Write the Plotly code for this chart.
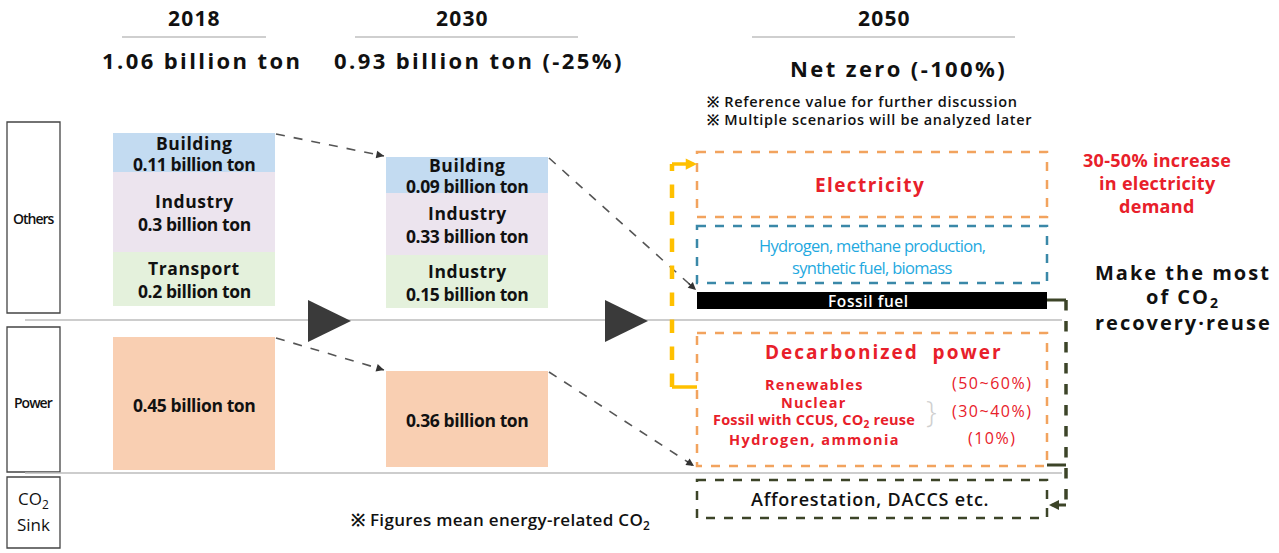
import plotly.graph_objects as go

# ---- content -------------------------------------------------------------
years = ["2018", "2030", "2050"]
totals = ["1.06 billion ton", "0.93 billion ton (-25%)", "Net zero (-100%)"]

sectors_2018 = ["Building", "Industry", "Transport"]
values_2018 = [0.11, 0.3, 0.2]
power_2018 = 0.45

sectors_2030 = ["Building", "Industry", "Industry"]
values_2030 = [0.09, 0.33, 0.15]
power_2030 = 0.36

row_labels = ["Others", "Power", "CO<sub>2</sub>", "Sink"]

mix_sources = ["Renewables", "Nuclear", "Fossil with CCUS, CO<sub>2</sub> reuse", "Hydrogen, ammonia"]
mix_shares = ["(50~60%)", "(30~40%)", "(10%)"]

notes_2050 = ["※ Reference value for further discussion",
              "※ Multiple scenarios will be analyzed later"]
demand_note = ["30-50% increase", "in electricity", "demand"]
reuse_note = ["Make the most", "of CO<sub>2</sub>", "recovery·reuse"]

# ---- styling -------------------------------------------------------------
W, H = 1279, 553
FONT = "Open Sans"
SECTOR_COLORS = ["#c3dbf1", "#ece4ee", "#e4f1dc"]
POWER_COLOR = "#f9cfb2"
ORANGE = "#f2a35e"
TEAL = "#3a88a8"
OLIVE = "#3c4428"
YELLOW = "#ffc000"
RED = "#e8202a"
ARROW_GRAY = "#555555"

fig = go.Figure()
shapes = []
ann = []


def text(x, y, s, size=15, color="#111", weight=700, xanchor="center", spacing=None):
    if spacing is not None:
        s = f"<span style='letter-spacing:{spacing}px'>{s}</span>"
    ann.append(dict(x=x, y=y, text=s, showarrow=False,
                    xanchor=xanchor, yanchor="middle",
                    font=dict(family=FONT, size=size, color=color, weight=weight)))


def rect(x0, y0, x1, y1, fill=None, line=None, width=1.5, dash=None):
    shapes.append(dict(type="rect", x0=x0, y0=y0, x1=x1, y1=y1,
                       fillcolor=fill if fill else "rgba(0,0,0,0)",
                       line=dict(color=line if line else "rgba(0,0,0,0)",
                                 width=width if line else 0, dash=dash),
                       layer="below"))


def seg(x0, y0, x1, y1, color, width=1.5, dash=None):
    shapes.append(dict(type="line", x0=x0, y0=y0, x1=x1, y1=y1,
                       line=dict(color=color, width=width, dash=dash)))


def head(x, y, fx, fy, color, size=1.0, width=1.5):
    # arrowhead at (x, y), oriented from (fx, fy)
    ann.append(dict(x=x, y=y, ax=fx, ay=fy, axref="x", ayref="y", xref="x", yref="y",
                    text="", showarrow=True, arrowhead=2, arrowsize=size,
                    arrowwidth=width, arrowcolor=color, standoff=0))


# ---- headers -------------------------------------------------------------
header_x = [194, 462, 884]
total_x = [202, 479, 898]
total_y = [60, 60, 68]
rule_spans = [(122, 266), (355, 578), (752, 1015)]
for yr, tot, hx, tx, ty, (r0, r1) in zip(years, totals, header_x, total_x, total_y, rule_spans):
    text(hx, 18, yr, size=21, spacing=1.2)
    seg(r0, 37, r1, 37, "#cfcfcf", width=2)
    text(tx, ty, tot, size=22, spacing=2.4)

text(705, 101, notes_2050[0], size=14.5, weight=600, xanchor="left", spacing=0.7)
text(705, 119, notes_2050[1], size=14.5, weight=600, xanchor="left", spacing=0.7)

# ---- row frames ----------------------------------------------------------
rows = [(122, 313), (327, 472), (477, 548)]
for (y0, y1) in rows:
    rect(7, y0, 60, y1, line="#444", width=1.3)
text(33.5, 218, row_labels[0], size=14, weight=600, spacing=-1)
text(33.5, 402, row_labels[1], size=14, weight=600, spacing=-1)
text(33.5, 499, row_labels[2], size=17, weight=500)
text(33.5, 524, row_labels[3], size=17, weight=500)

seg(25, 320, 1062, 320, "#bdbdbd", width=1.5)
seg(25, 473, 1062, 473, "#bdbdbd", width=1.5)

# progress triangles
for tx0 in (308, 605):
    shapes.append(dict(type="path", path=f"M {tx0},300 L {tx0 + 43},321 L {tx0},342 Z",
                       fillcolor="#3a3a3a", line=dict(width=0)))

# ---- sector stacks -------------------------------------------------------
stack_2018 = [(133, 172), (172, 252), (252, 306)]
stack_2030 = [(157, 193), (193, 255), (255, 308)]
for (sx0, sx1), names, vals, stack in [((113, 275), sectors_2018, values_2018, stack_2018),
                                       ((386, 548), sectors_2030, values_2030, stack_2030)]:
    for name, v, col, (y0, y1) in zip(names, vals, SECTOR_COLORS, stack):
        rect(sx0, y0, sx1, y1, fill=col)
        mid = (y0 + y1) / 2
        gap = 11 if (y1 - y0) < 45 else 12
        cx = (sx0 + sx1) / 2
        text(cx, mid - gap + 1, name, size=17.5, spacing=0.6)
        text(cx, mid + gap, f"{v:g} billion ton", size=17.5, spacing=-0.4)

rect(113, 337, 275, 470, fill=POWER_COLOR)
text(194, 405, f"{power_2018:g} billion ton", size=17.5, spacing=-0.4)
rect(386, 371, 548, 467, fill=POWER_COLOR)
text(467, 420, f"{power_2030:g} billion ton", size=17.5, spacing=-0.4)

# dashed transition arrows
for (x0, y0, x1, y1) in [(276, 134, 384, 156), (549, 158, 696, 290),
                         (276, 338, 384, 370), (549, 372, 694, 466)]:
    seg(x0, y0, x1, y1, ARROW_GRAY, width=1.6, dash="dash")
    head(x1, y1, x1 - (x1 - x0) * 0.06, y1 - (y1 - y0) * 0.06, "#333", size=1.1, width=1.4)

# ---- 2050 structure ------------------------------------------------------
BX0, BX1 = 697, 1047
rect(BX0, 152, BX1, 217, line=ORANGE, width=2.5, dash="dash")
text(870, 185, "Electricity", size=19, color=RED, spacing=1.4)

rect(BX0, 226, BX1, 283, line=TEAL, width=2.5, dash="dash")
text(872, 245, "Hydrogen, methane production,", size=16.5, color="#1fa9e0", weight=500, spacing=-0.7)
text(872, 267, "synthetic fuel, biomass", size=16.5, color="#1fa9e0", weight=500, spacing=-0.7)

rect(BX0, 292, BX1, 309, fill="#000000")
text(868, 300.5, "Fossil fuel", size=15.5, color="#ffffff", weight=600, spacing=0.6)

rect(BX0, 333, BX1, 466, line=ORANGE, width=2.5, dash="dash")
text(884, 352, "Decarbonized  power", size=19, color=RED, spacing=2)
src_y = [384, 402, 420, 439]
src_sp = [1.2, 1.2, 0.2, 1.4]
for s, y, sp in zip(mix_sources, src_y, src_sp):
    text(814, y, s, size=14.5, color=RED, spacing=sp)
for s, y in zip(mix_shares, [383, 411, 438]):
    text(992, y, s, size=16, color=RED, weight=500, spacing=1.5)
text(931, 410, "}", size=30, color="#cfcfcf", weight=300)

rect(BX0, 480, BX1, 518, line=OLIVE, width=2.5, dash="dash")
text(870, 499, "Afforestation, DACCS etc.", size=18, weight=600, spacing=0.8)

# yellow feedback loop into electricity
seg(697, 387, 672, 387, YELLOW, width=3.5)
seg(672, 387, 672, 164, YELLOW, width=4.5, dash="dash")
seg(672, 164, 690, 164, YELLOW, width=3.5)
head(697, 164, 688, 164, YELLOW, size=0.9, width=2.5)

# olive CO2 recovery loop toward sink
seg(1047, 300, 1066, 300, OLIVE, width=3)
seg(1047, 465, 1066, 465, OLIVE, width=3)
seg(1066, 300, 1066, 505, OLIVE, width=3.5, dash="dash")
seg(1066, 505, 1055, 505, OLIVE, width=3)
head(1049, 505, 1058, 505, OLIVE, size=0.8, width=2.5)

# ---- side notes ----------------------------------------------------------
for s, y in zip(demand_note, [160, 183, 206]):
    text(1157, y, s, size=18, color=RED, spacing=0.3)
for s, y in zip(reuse_note, [272, 297, 322]):
    text(1183, y, s, size=20, spacing=2)
text(500, 520, "※ Figures mean energy-related CO<sub>2</sub>", size=17, weight=600, spacing=0.3)

fig.update_layout(
    width=W, height=H, margin=dict(l=0, r=0, t=0, b=0),
    paper_bgcolor="white", plot_bgcolor="white",
    xaxis=dict(range=[0, W], visible=False, fixedrange=True),
    yaxis=dict(range=[H, 0], visible=False, fixedrange=True),
    shapes=shapes, annotations=ann, showlegend=False,
)
fig.write_html("out.html")
